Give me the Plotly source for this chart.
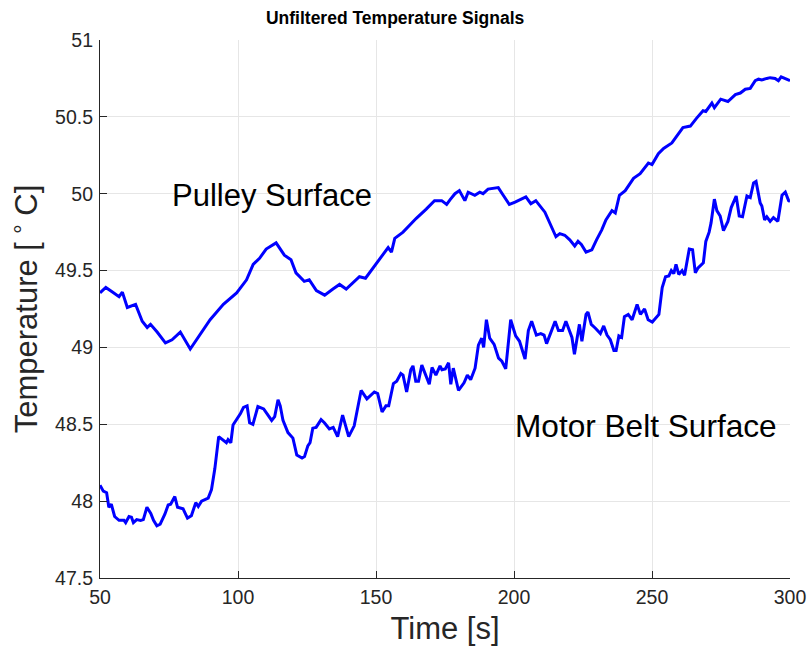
import plotly.graph_objects as go

# Pulley surface signal
pulley_t = [50, 52.1, 54.5, 56.9, 58.1, 59.9, 62.9, 65.3, 67.1, 68.3, 70.7, 73.7, 76.1, 77.3, 79.1, 82.7, 86.9, 89.9, 94.7, 99.5,
            103.1, 105.5, 107.8, 110.2, 113.8, 116.8, 119.2, 121.0, 124.0, 125.8, 128.4, 131.4, 134.4, 136.8, 139.2, 141.6, 144.0,
            146.2, 149.6, 154.4, 155.6, 156.8, 159.8, 164.6, 168.2, 171.2, 173.8, 175.6, 176.8, 178.6, 180.2, 182.2, 183.4, 185.8,
            187.6, 188.8, 190.6, 193.1, 194.3, 196.1, 198.3, 200.4, 202.2, 204.3, 206.1, 207.9, 211.2, 213.0, 215.2, 216.6, 218.4,
            220.2, 222.0, 223.2, 224.4, 226.1, 228.2, 229.9, 231.8, 233.3, 235.5, 236.7, 238.2, 240.3, 243.3, 245.7, 248.7, 250.0,
            252.3, 254.2, 255.4, 257.2, 261.2, 263.9, 266.1, 268.5, 269.5, 271.7, 272.6, 274.9, 277.5, 278.4, 280.2, 282.0, 283.8,
            285.6, 287.4, 288.6, 289.8, 291.6, 292.8, 294.6, 295.8, 296.8, 298.2, 300.0]
pulley_y = [49.355, 49.39, 49.36, 49.33, 49.36, 49.26, 49.28, 49.17, 49.13, 49.15, 49.10, 49.03, 49.05, 49.07, 49.10, 48.99, 49.10,
            49.18, 49.28, 49.355, 49.44, 49.54, 49.58, 49.64, 49.68, 49.60, 49.57, 49.485, 49.43, 49.44, 49.37, 49.34, 49.38, 49.41,
            49.38, 49.42, 49.46, 49.45, 49.53, 49.65, 49.62, 49.71, 49.75, 49.84, 49.90, 49.955, 49.955, 49.93, 49.96, 50.00, 50.02,
            49.955, 50.01, 49.99, 50.01, 50.00, 50.03, 50.04, 50.04, 49.99, 49.93, 49.945, 49.96, 49.98, 49.935, 49.955, 49.88, 49.81,
            49.72, 49.74, 49.73, 49.70, 49.66, 49.69, 49.67, 49.62, 49.635, 49.70, 49.765, 49.83, 49.89, 49.875, 49.99, 50.02, 50.10,
            50.13, 50.20, 50.19, 50.26, 50.295, 50.31, 50.33, 50.43, 50.44, 50.49, 50.54, 50.535, 50.59, 50.56, 50.615, 50.60, 50.615,
            50.645, 50.655, 50.68, 50.685, 50.735, 50.745, 50.74, 50.75, 50.755, 50.75, 50.735, 50.76, 50.75, 50.735]

# Motor belt surface signal
belt_t = [50, 51.2, 52.4, 53.2, 54.1, 55.3, 56.9, 58.7, 59.3, 60.5, 61.4, 62.1, 63.3, 64.7, 65.7, 67.0, 68.4, 69.4, 70.6, 71.8,
          73.5, 74.7, 75.6, 77.1, 78.1, 80.1, 81.7, 83.1, 84.7, 85.6, 86.8, 89.2, 90.4, 91.6, 93.0, 94.6, 95.8, 96.4, 97.4, 98.2,
          100.9, 102.0, 103.3, 104.2, 105.4, 107.2, 109.3, 112.2, 113.3, 114.5, 115.3, 116.3, 118.1, 119.9, 121.3, 123.2, 124.1,
          125.3, 126.1, 127.1, 128.3, 130.1, 131.3, 133.1, 134.5, 136.1, 137.9, 140.1, 142.1, 144.6, 146.7, 149.4, 150.6, 152.2,
          153.6, 154.6, 156.3, 157.5, 159.0, 159.8, 161.1, 162.6, 163.4, 164.4, 165.4, 166.6, 167.8, 169.3, 170.3, 171.7, 173.2,
          173.9, 175.1, 176.3, 177.1, 178.0, 179.9, 181.9, 183.1, 184.3, 185.9, 187.1, 188.3, 189.0, 190.0, 191.2, 192.8, 194.4,
          195.6, 197.0, 198.8, 200.6, 202.0, 204.0, 205.2, 206.4, 208.1, 209.7, 210.9, 211.8, 213.2, 214.9, 216.1, 217.6, 218.8,
          220.3, 221.0, 221.9, 223.7, 224.6, 226.1, 226.8, 228.0, 229.5, 231.3, 232.5, 233.7, 234.9, 236.2, 237.0, 238.0, 239.0,
          240.0, 241.4, 242.8, 244.6, 245.8, 247.3, 248.6, 250.1, 252.5, 253.7, 254.9, 256.1, 257.0, 257.9, 258.7, 259.7, 260.9,
          261.8, 263.5, 264.7, 265.7, 266.6, 268.6, 269.5, 270.7, 271.4, 272.6, 273.5, 274.7, 275.9, 277.5, 278.7, 280.5, 281.6,
          282.8, 284.4, 285.6, 286.8, 287.7, 289.2, 289.8, 290.8, 291.6, 292.8, 294.0, 295.6, 297.1, 298.3, 299.5, 300.0]
belt_y = [48.104, 48.065, 48.055, 47.96, 47.98, 47.90, 47.875, 47.875, 47.86, 47.90, 47.895, 47.86, 47.88, 47.875, 47.88, 47.96,
          47.92, 47.875, 47.84, 47.85, 47.915, 47.975, 47.98, 48.03, 47.96, 47.95, 47.89, 47.905, 47.99, 47.965, 48.00, 48.02,
          48.075, 48.21, 48.42, 48.40, 48.38, 48.40, 48.38, 48.495, 48.57, 48.61, 48.62, 48.51, 48.50, 48.615, 48.60, 48.525,
          48.55, 48.66, 48.62, 48.525, 48.446, 48.41, 48.30, 48.28, 48.29, 48.36, 48.38, 48.475, 48.48, 48.53, 48.51, 48.47,
          48.48, 48.42, 48.56, 48.42, 48.49, 48.72, 48.665, 48.71, 48.70, 48.58, 48.62, 48.62, 48.765, 48.78, 48.83, 48.82,
          48.71, 48.855, 48.88, 48.78, 48.78, 48.885, 48.83, 48.76, 48.87, 48.82, 48.88, 48.855, 48.86, 48.90, 48.76, 48.865,
          48.72, 48.77, 48.82, 48.79, 48.865, 49.015, 49.06, 49.00, 49.18, 49.06, 49.02, 48.93, 48.91, 48.86, 49.18, 49.075,
          49.04, 48.925, 49.11, 49.17, 49.08, 49.09, 49.08, 49.025, 49.09, 49.17, 49.11, 49.11, 49.17, 49.10, 49.065, 48.955,
          49.15, 49.04, 49.215, 49.23, 49.15, 49.125, 49.09, 49.14, 49.08, 49.05, 48.98, 48.98, 49.075, 49.065, 49.20, 49.215,
          49.18, 49.28, 49.215, 49.25, 49.18, 49.165, 49.215, 49.39, 49.46, 49.465, 49.50, 49.48, 49.54, 49.475, 49.50, 49.47,
          49.64, 49.635, 49.485, 49.515, 49.55, 49.69, 49.75, 49.81, 49.965, 49.89, 49.855, 49.76, 49.82, 49.91, 49.985, 49.855,
          49.85, 49.985, 49.975, 50.07, 50.08, 49.94, 49.92, 49.83, 49.85, 49.82, 49.845, 49.82, 49.99, 50.01, 49.955, 49.95]

x_ticks = [50, 100, 150, 200, 250, 300]
y_ticks = [47.5, 48, 48.5, 49, 49.5, 50, 50.5, 51]
y_tick_labels = ["47.5", "48", "48.5", "49", "49.5", "50", "50.5", "51"]

FONT = "Liberation Sans, Arial, Helvetica, sans-serif"
AX = "#262626"

fig = go.Figure()
fig.add_trace(go.Scatter(x=pulley_t, y=pulley_y, mode="lines",
                         line=dict(color="rgb(0,0,255)", width=3), showlegend=False))
fig.add_trace(go.Scatter(x=belt_t, y=belt_y, mode="lines",
                         line=dict(color="rgb(0,0,255)", width=3), showlegend=False))

fig.add_annotation(x=75.5, y=49.99, text="Pulley Surface", showarrow=False, xanchor="left", yanchor="middle",
                   font=dict(family=FONT, size=31, color="black"))
fig.add_annotation(x=247.8, y=48.49, text="Motor Belt Surface", showarrow=False, xanchor="center", yanchor="middle",
                   font=dict(family=FONT, size=31.6, color="black"))

fig.update_layout(
    width=808, height=657,
    margin=dict(l=100, r=18, t=40, b=79, autoexpand=False),
    paper_bgcolor="white", plot_bgcolor="white",
    title=dict(text="<b>Unfiltered Temperature Signals</b>", x=0.489, xanchor="center", y=0.973, yanchor="middle",
               font=dict(family=FONT, size=17.5, color="black")),
    xaxis=dict(range=[50, 300], tickvals=x_ticks, ticktext=[str(v) for v in x_ticks],
               showgrid=True, gridcolor="#e6e6e6", gridwidth=1, automargin=False,
               showline=True, linecolor=AX, linewidth=1.2, mirror=False,
               ticks="inside", ticklen=7, tickcolor=AX, tickwidth=1, ticklabelstandoff=1,
               tickfont=dict(family=FONT, size=19.5, color=AX), zeroline=False,
               title=dict(text="Time [s]", font=dict(family=FONT, size=31, color=AX), standoff=10)),
    yaxis=dict(range=[47.5, 51], tickvals=y_ticks, ticktext=y_tick_labels,
               showgrid=True, gridcolor="#e6e6e6", gridwidth=1, automargin=False,
               showline=True, linecolor=AX, linewidth=1.2, mirror=False,
               ticks="inside", ticklen=7, tickcolor=AX, tickwidth=1, ticklabelstandoff=2,
               tickfont=dict(family=FONT, size=19.5, color=AX), zeroline=False,
               title=dict(text="Temperature [\u2009<sup>∘</sup>\u2009C]", font=dict(family=FONT, size=31, color=AX), standoff=8)),
)

fig.write_html("out.html")
